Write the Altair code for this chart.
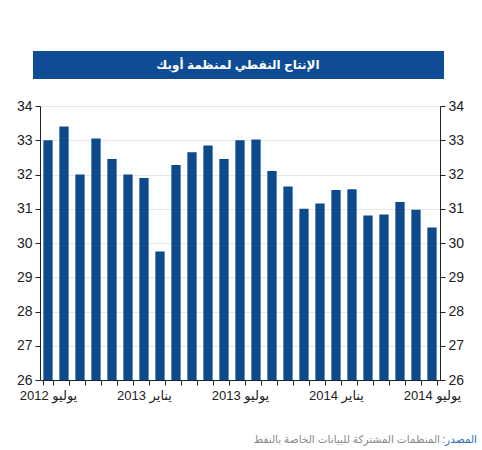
import altair as alt
import pandas as pd

months = ["2012-07","2012-08","2012-09","2012-10","2012-11","2012-12",
          "2013-01","2013-02","2013-03","2013-04","2013-05","2013-06",
          "2013-07","2013-08","2013-09","2013-10","2013-11","2013-12",
          "2014-01","2014-02","2014-03","2014-04","2014-05","2014-06","2014-07"]
values = [33.0, 33.4, 32.0, 33.05, 32.45, 32.0, 31.9, 29.75, 32.28, 32.65,
          32.85, 32.45, 33.0, 33.02, 32.1, 31.65, 31.0, 31.15, 31.55, 31.57,
          30.8, 30.83, 31.2, 30.97, 30.45]
tick_labels = {"2012-07": "يوليو 2012", "2013-01": "يناير 2013", "2013-07": "يوليو 2013",
               "2014-01": "يناير 2014", "2014-07": "يوليو 2014"}
title_text = "الإنتاج النفطي لمنظمة أوبك"
source_label = "المصدر:\u200f"
source_text = "المنظمات المشتركة للبيانات الخاصة بالنفط"

df = pd.DataFrame({"month": months, "value": values})

label_expr = " : ".join(
    [f"datum.value == '{k}' ? '{v}'" for k, v in tick_labels.items()]) + " : ''"

BAR = "#0c4a8c"
FONT = "Liberation Sans, DejaVu Sans, sans-serif"

xenc = alt.X("month:N", sort=months, title=None,
             scale=alt.Scale(paddingInner=0.42, paddingOuter=0.21),
             axis=alt.Axis(labelExpr=label_expr, labelAngle=0, tickBand="extent",
                           domainColor="#222", tickColor="#222", tickSize=5,
                           labelFontSize=13, labelColor="#222", labelPadding=4,
                           labelFont=FONT, grid=False))
yscale = alt.Scale(domain=[26, 34], nice=False, zero=False)

bars = alt.Chart(df).mark_bar(color=BAR, clip=True).encode(
    x=xenc,
    y=alt.Y("value:Q", scale=yscale, title=None,
            axis=alt.Axis(orient="left", values=list(range(26, 35)), grid=True,
                          gridColor="#e8e8e8", domainColor="#222", tickColor="#222",
                          tickSize=5, labelFontSize=14, labelColor="#222",
                          labelFont=FONT, labelPadding=3)),
    y2=alt.datum(26),
)
bars_right = alt.Chart(df).mark_bar(opacity=0, clip=True).encode(
    x=alt.X("month:N", sort=months),
    y=alt.Y("value:Q", scale=yscale, title=None,
            axis=alt.Axis(orient="right", values=list(range(26, 35)), grid=False,
                          domainColor="#222", tickColor="#222", tickSize=5,
                          labelFontSize=14, labelColor="#222", labelFont=FONT,
                          labelPadding=3)),
    y2=alt.datum(26),
)

one = pd.DataFrame({"t": [title_text]})
banner = alt.Chart(one).mark_rect(color="#0e4c96").encode(
    x=alt.value(-7), x2=alt.value(404), y=alt.value(-55), y2=alt.value(-27))
banner_text = alt.Chart(one).mark_text(color="white", fontSize=12, fontWeight="bold",
                                       font=FONT, align="center", baseline="middle").encode(
    x=alt.value(198), y=alt.value(-41), text="t:N")

src1 = alt.Chart(pd.DataFrame({"t": [source_label]})).mark_text(
    color="#2a6db5", fontSize=10.5, font=FONT, align="right", baseline="middle").encode(
    x=alt.value(437), y=alt.value(334), text="t:N")
src2 = alt.Chart(pd.DataFrame({"t": [source_text]})).mark_text(
    color="#8a8a8a", fontSize=10.5, font=FONT, align="right", baseline="middle").encode(
    x=alt.value(400), y=alt.value(334), text="t:N")

chart = alt.layer(bars, bars_right, banner, banner_text, src1, src2).resolve_scale(
    y="independent").properties(
    width=400, height=274,
    autosize=alt.AutoSizeParams(type="none"),
    padding={"left": 40, "top": 106, "right": 42, "bottom": 70},
    background="white",
).configure_view(stroke=None)

chart.save("out.html", embed_options={"renderer": "svg", "actions": False})
